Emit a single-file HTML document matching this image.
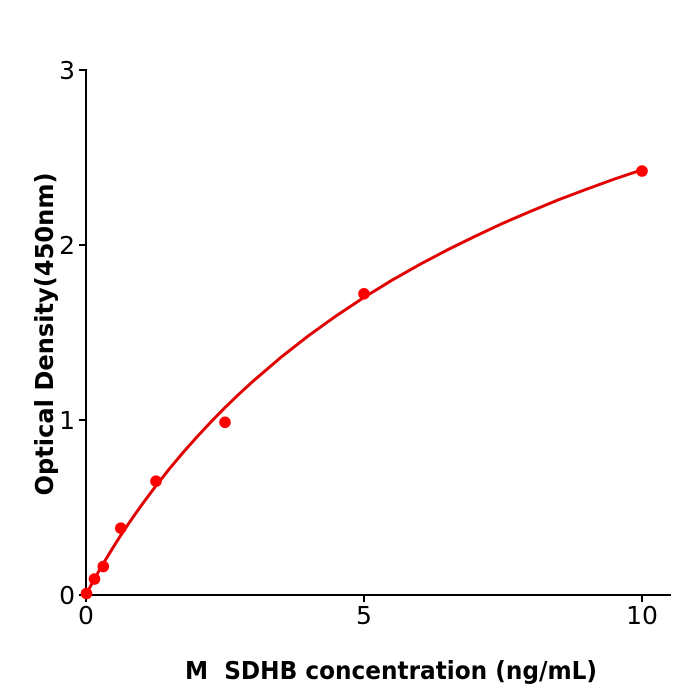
<!DOCTYPE html>
<html><head><meta charset="utf-8"><style>
html,body{margin:0;padding:0;background:#fff;}
svg{display:block;}
text{font-family:"DejaVu Sans","Liberation Sans",sans-serif;fill:#000;}
</style></head><body>
<svg width="700" height="700" viewBox="0 0 700 700" xmlns="http://www.w3.org/2000/svg">
<rect width="700" height="700" fill="#fff"/>
<g stroke="#000" stroke-width="2" fill="none">
<line x1="86" y1="69" x2="86" y2="596"/>
<line x1="85" y1="595" x2="671" y2="595"/>
<line x1="79" y1="595" x2="86" y2="595"/>
<line x1="79" y1="420" x2="86" y2="420"/>
<line x1="79" y1="245" x2="86" y2="245"/>
<line x1="79" y1="70" x2="86" y2="70"/>
<line x1="86" y1="595" x2="86" y2="602"/>
<line x1="364" y1="595" x2="364" y2="602"/>
<line x1="642" y1="595" x2="642" y2="602"/>
</g>
<g font-size="25" text-anchor="end">
<text x="75" y="604">0</text>
<text x="75" y="429">1</text>
<text x="75" y="254">2</text>
<text x="75" y="79">3</text>
</g>
<g font-size="25" text-anchor="middle">
<text x="86" y="624">0</text>
<text x="364" y="624">5</text>
<text x="642" y="624">10</text>
</g>
<polyline fill="none" stroke="#e00000" stroke-width="3" stroke-linejoin="round" stroke-linecap="round" points="86,595 87.11,592.72 88.78,589.47 91.56,584.24 94.34,579.16 97.12,574.21 101,567.42 105.46,559.9 113.8,546.3 120.47,535.87 127.7,524.98 134.37,515.26 141.6,505.07 155.5,486.4 169.4,468.84 183.3,452.25 197.2,436.59 211.1,421.73 225,407.59 238.9,394.17 252.8,381.43 280.6,357.61 308.4,335.83 336.2,315.84 364,297.38 391.8,280.31 419.6,264.6 447.4,249.9 475.2,236.25 503,223.2 530.8,211.22 558.6,199.78 586.4,189.25 614.2,179.13 642,169.75"/>
<g fill="#f00">
<circle cx="86.5" cy="593.5" r="5.8"/>
<circle cx="94.5" cy="579" r="5.8"/>
<circle cx="103.3" cy="566.5" r="5.8"/>
<circle cx="120.8" cy="528.2" r="5.8"/>
<circle cx="156" cy="481.2" r="5.8"/>
<circle cx="225" cy="422.3" r="5.8"/>
<circle cx="364" cy="293.8" r="5.8"/>
<circle cx="642" cy="171" r="5.8"/>
</g>
<text x="391" y="679" font-size="25" font-weight="bold" text-anchor="middle" textLength="412" lengthAdjust="spacingAndGlyphs">M&#160; SDHB concentration (ng/mL)</text>
<text transform="translate(53,334) rotate(-90)" x="0" y="0" font-size="25" font-weight="bold" text-anchor="middle" textLength="323" lengthAdjust="spacingAndGlyphs">Optical Density(450nm)</text>
</svg>
</body></html>
